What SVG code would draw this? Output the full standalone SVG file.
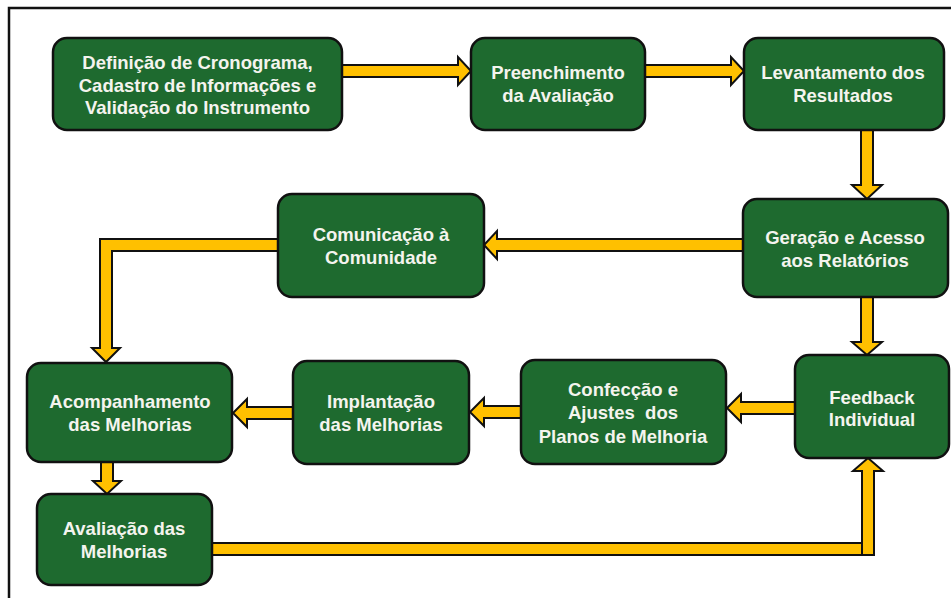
<svg xmlns="http://www.w3.org/2000/svg" width="951" height="598" viewBox="0 0 951 598">
<style>
.box{fill:#1E6A2F;stroke:#111;stroke-width:2.5}
.arr{fill:#FFC000;stroke:#111;stroke-width:2;stroke-linejoin:miter}
.t{font-family:"Liberation Sans",Arial,sans-serif;font-weight:bold;font-size:18.5px;fill:#F4F4EE;text-anchor:middle}
</style>
<rect width="951" height="598" fill="#fff"/>
<path d="M9,598 L9,8 L951,8" fill="none" stroke="#111" stroke-width="2.5"/>
<g id="connectors">
<polygon class="arr" points="342,65 458,65 458,57 471,71 458,85 458,77 342,77"/>
<polygon class="arr" points="645,65 731,65 731,57 744,71 731,85 731,77 645,77"/>
<polygon class="arr" points="861,130 861,185 852,185 867,199 882,185 873,185 873,130"/>
<polygon class="arr" points="743,239 497,239 497,231 484,245 497,259 497,251 743,251"/>
<polygon class="arr" points="278,239 100,239 100,348 92,348 106,362 120,348 112,348 112,251 278,251"/>
<polygon class="arr" points="861,297 861,342 852,342 867,355 882,342 873,342 873,297"/>
<polygon class="arr" points="795,402 741,402 741,394 727,408 741,422 741,414 795,414"/>
<polygon class="arr" points="521,406 484,406 484,398 470,412 484,426 484,418 521,418"/>
<polygon class="arr" points="293,407 247,407 247,399 233,413 247,427 247,419 293,419"/>
<polygon class="arr" points="101,462 101,481 93,481 107,494 121,481 113,481 113,462"/>
<polygon class="arr" points="212,543 863,543 863,555 212,555"/>
<polygon class="arr" points="862,555 862,471 853,471 868,458 883,471 874,471 874,555"/>
</g>
<g id="n1"><rect class="box" x="53" y="38" width="289" height="92" rx="14"/>
<text class="t" x="197.5" y="68.5">Definição de Cronograma,</text>
<text class="t" x="197.5" y="91.5">Cadastro de Informações e</text>
<text class="t" x="197.5" y="114">Validação do Instrumento</text></g>
<g id="n2"><rect class="box" x="471" y="38" width="174" height="92" rx="14"/>
<text class="t" x="558" y="78.5">Preenchimento</text>
<text class="t" x="558" y="101.5">da Avaliação</text></g>
<g id="n3"><rect class="box" x="744" y="38" width="200" height="92" rx="14"/>
<text class="t" x="843" y="78.5">Levantamento dos</text>
<text class="t" x="843" y="101.5">Resultados</text></g>
<g id="n4"><rect class="box" x="743" y="199" width="205" height="98" rx="14"/>
<text class="t" x="845" y="243.5">Geração e Acesso</text>
<text class="t" x="845" y="266.5">aos Relatórios</text></g>
<g id="n5"><rect class="box" x="278" y="194" width="206" height="103" rx="14"/>
<text class="t" x="381" y="240.5">Comunicação à</text>
<text class="t" x="381" y="263.5">Comunidade</text></g>
<g id="n6"><rect class="box" x="27" y="363" width="205" height="99" rx="14"/>
<text class="t" x="130" y="407.5">Acompanhamento</text>
<text class="t" x="130" y="430.5">das Melhorias</text></g>
<g id="n7"><rect class="box" x="293" y="361" width="176" height="103" rx="14"/>
<text class="t" x="381" y="407.5">Implantação</text>
<text class="t" x="381" y="430.5">das Melhorias</text></g>
<g id="n8"><rect class="box" x="521" y="360" width="205" height="104" rx="14"/>
<text class="t" x="623" y="395.5">Confecção e</text>
<text class="t" x="623" y="419" style="white-space:pre">Ajustes  dos</text>
<text class="t" x="623" y="442.5">Planos de Melhoria</text></g>
<g id="n9"><rect class="box" x="795" y="355" width="154" height="103" rx="14"/>
<text class="t" x="872" y="403.5">Feedback</text>
<text class="t" x="872" y="425.5">Individual</text></g>
<g id="n10"><rect class="box" x="37" y="494" width="175" height="91" rx="14"/>
<text class="t" x="124" y="534.5">Avaliação das</text>
<text class="t" x="124" y="557.5">Melhorias</text></g>
</svg>
